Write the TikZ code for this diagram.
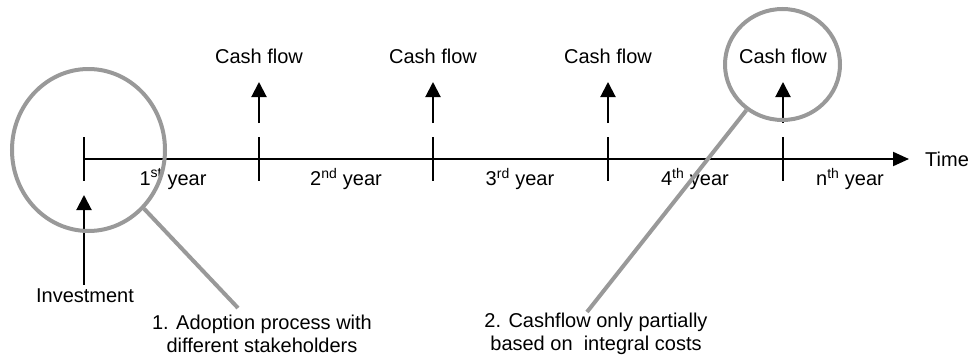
\documentclass[tikz,border=0pt]{standalone}
\usepackage{fontspec}
\setmainfont{Liberation Sans}
\usetikzlibrary{arrows.meta, calc, shapes.geometric}
\newcommand{\px}{1pt}
\definecolor{ringgray}{RGB}{153,153,153}

\begin{document}
\begin{tikzpicture}[x=\px,y=-\px]
\useasboundingbox (0,0) rectangle (972,356);
\tikzstyle{every node}=[font=\fontsize{20}{22.5}\selectfont,
                        inner sep=0pt,
                        align=center
                        ]
\tikzstyle{flow}=[line width=2pt, -{Triangle[length=15pt,width=15pt]}]
\tikzstyle{ring}=[ellipse, draw=ringgray, line width=4pt]
\tikzstyle{callout}=[draw=ringgray, line width=4pt]
% time axis
\coordinate (t0) at (84,159);
\coordinate (t1) at (259,159);
\coordinate (t2) at (433,159);
\coordinate (t3) at (608,159);
\coordinate (t4) at (783,159);
\coordinate (tend) at (909,159);
\draw[line width=2pt, -{Triangle[length=16pt,width=14pt]}] (t0) -- (tend);
\node[anchor=west] (time) at (925,159) {Time};
\foreach \i in {0,...,4}
  \draw[line width=2pt] (t\i) ++(0,-22) -- ++(0,44);
% years
\node (y1) at (173,179) {1\textsuperscript{st} year};
\node (y2) at (346,179) {2\textsuperscript{nd} year};
\node (y3) at (520,179) {3\textsuperscript{rd} year};
\node (y4) at (695,179) {4\textsuperscript{th} year};
\node (y5) at (850,179) {n\textsuperscript{th} year};
% cash flows
\foreach \i in {1,...,4} {
  \node (cf\i) at ($(t\i)+(0,-103)$) {Cash flow};
  \coordinate (cb\i) at ($(t\i)+(0,-36)$);
  \coordinate (ct\i) at ($(t\i)+(0,-77)$);
  \draw[flow] (cb\i) -- (ct\i);
}
% investment
\node (inv) at (85,296) {Investment};
\coordinate (invtip) at (84,195);
\draw[flow] ([yshift=4pt]inv.north -| invtip) -- (invtip);
% remarks
\node[ring, minimum width=153pt, minimum height=162pt] (ring1) at (88.5,150) {};
\node[ring, minimum width=115pt, minimum height=111pt] (ring2) at (782.5,64.5) {};
\node (rem1) at (262,334) {1. Adoption process with\\different stakeholders};
\node (rem2) at (596,334) {2. Cashflow only partially\\based on\ \ integral costs};
\coordinate (e1) at (238,308);
\coordinate (e2) at (587,312);
\draw[callout] (ring1) -- (e1);
\draw[callout] (ring2) -- (e2);
\end{tikzpicture}
\end{document}
